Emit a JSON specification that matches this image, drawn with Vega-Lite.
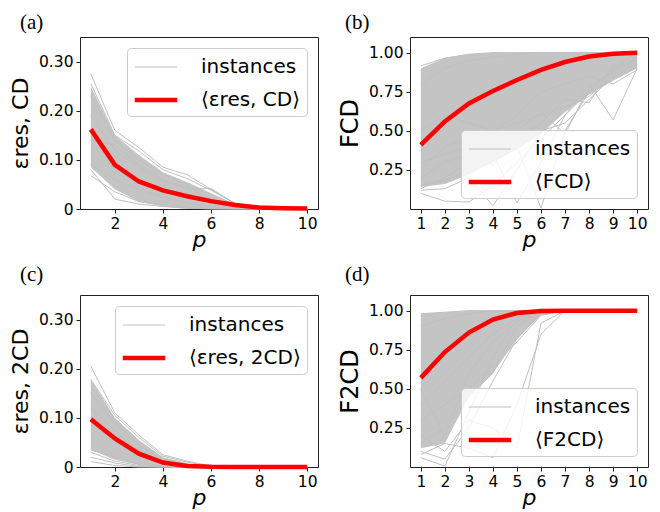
{
"$schema": "https://vega.github.io/schema/vega-lite/v6.json",
"background": "white",
"padding": {"left": 8, "top": 11, "right": 5, "bottom": 2},
"datasets": {
"aB": [{"p":1,"v":0.085,"hi":0.25},{"p":2,"v":0.04,"hi":0.15},{"p":3,"v":0.015,"hi":0.11},{"p":4,"v":0.005,"hi":0.075},{"p":5,"v":0,"hi":0.055},{"p":6,"v":0,"hi":0.032},{"p":7,"v":0,"hi":0.01},{"p":8,"v":0,"hi":0.004},{"p":9,"v":0,"hi":0.002},{"p":10,"v":0,"hi":0.001}],
"aM": [{"p":1,"v":0.162},{"p":2,"v":0.09},{"p":3,"v":0.056},{"p":4,"v":0.038},{"p":5,"v":0.026},{"p":6,"v":0.016},{"p":7,"v":0.008},{"p":8,"v":0.003},{"p":9,"v":0.0015},{"p":10,"v":0.0008}],
"aI": [
{"i":1,"p":1,"v":0.275},{"i":1,"p":2,"v":0.16},{"i":1,"p":3,"v":0.125},{"i":1,"p":4,"v":0.085},{"i":1,"p":5,"v":0.07},{"i":1,"p":6,"v":0.04},{"i":1,"p":7,"v":0.012},{"i":1,"p":8,"v":0.004},{"i":1,"p":9,"v":0.002},{"i":1,"p":10,"v":0.001},
{"i":2,"p":1,"v":0.255},{"i":2,"p":2,"v":0.15},{"i":2,"p":3,"v":0.118},{"i":2,"p":4,"v":0.08},{"i":2,"p":5,"v":0.062},{"i":2,"p":6,"v":0.038},{"i":2,"p":7,"v":0.011},{"i":2,"p":8,"v":0.003},{"i":2,"p":9,"v":0.001},{"i":2,"p":10,"v":0},
{"i":3,"p":1,"v":0.23},{"i":3,"p":2,"v":0.14},{"i":3,"p":3,"v":0.1},{"i":3,"p":4,"v":0.07},{"i":3,"p":5,"v":0.05},{"i":3,"p":6,"v":0.03},{"i":3,"p":7,"v":0.008},{"i":3,"p":8,"v":0.002},{"i":3,"p":9,"v":0.001},{"i":3,"p":10,"v":0},
{"i":4,"p":1,"v":0.19},{"i":4,"p":2,"v":0.12},{"i":4,"p":3,"v":0.085},{"i":4,"p":4,"v":0.055},{"i":4,"p":5,"v":0.045},{"i":4,"p":6,"v":0.02},{"i":4,"p":7,"v":0.006},{"i":4,"p":8,"v":0.002},{"i":4,"p":9,"v":0},{"i":4,"p":10,"v":0},
{"i":5,"p":1,"v":0.14},{"i":5,"p":2,"v":0.13},{"i":5,"p":3,"v":0.09},{"i":5,"p":4,"v":0.06},{"i":5,"p":5,"v":0.04},{"i":5,"p":6,"v":0.042},{"i":5,"p":7,"v":0.01},{"i":5,"p":8,"v":0.003},{"i":5,"p":9,"v":0.001},{"i":5,"p":10,"v":0},
{"i":6,"p":1,"v":0.09},{"i":6,"p":2,"v":0.06},{"i":6,"p":3,"v":0.04},{"i":6,"p":4,"v":0.025},{"i":6,"p":5,"v":0.012},{"i":6,"p":6,"v":0.005},{"i":6,"p":7,"v":0.002},{"i":6,"p":8,"v":0},{"i":6,"p":9,"v":0},{"i":6,"p":10,"v":0},
{"i":7,"p":1,"v":0.08},{"i":7,"p":2,"v":0.02},{"i":7,"p":3,"v":0.01},{"i":7,"p":4,"v":0.005},{"i":7,"p":5,"v":0.002},{"i":7,"p":6,"v":0},{"i":7,"p":7,"v":0},{"i":7,"p":8,"v":0},{"i":7,"p":9,"v":0},{"i":7,"p":10,"v":0},
{"i":8,"p":1,"v":0.068},{"i":8,"p":2,"v":0.035},{"i":8,"p":3,"v":0.015},{"i":8,"p":4,"v":0.008},{"i":8,"p":5,"v":0.004},{"i":8,"p":6,"v":0.001},{"i":8,"p":7,"v":0},{"i":8,"p":8,"v":0},{"i":8,"p":9,"v":0},{"i":8,"p":10,"v":0}],
"bB": [{"p":1,"v":0.14,"hi":0.9},{"p":2,"v":0.16,"hi":0.965},{"p":3,"v":0.22,"hi":0.99},{"p":4,"v":0.3,"hi":1},{"p":5,"v":0.38,"hi":1},{"p":6,"v":0.48,"hi":1},{"p":7,"v":0.62,"hi":1},{"p":8,"v":0.73,"hi":1},{"p":9,"v":0.82,"hi":1},{"p":10,"v":0.9,"hi":1}],
"bM": [{"p":1,"v":0.41},{"p":2,"v":0.56},{"p":3,"v":0.675},{"p":4,"v":0.755},{"p":5,"v":0.825},{"p":6,"v":0.89},{"p":7,"v":0.94},{"p":8,"v":0.975},{"p":9,"v":0.993},{"p":10,"v":1}],
"bI": [
{"i":1,"p":1,"v":0.915},{"i":1,"p":2,"v":0.965},{"i":1,"p":3,"v":0.99},{"i":1,"p":4,"v":1},{"i":1,"p":5,"v":1},{"i":1,"p":6,"v":1},{"i":1,"p":7,"v":1},{"i":1,"p":8,"v":1},{"i":1,"p":9,"v":1},{"i":1,"p":10,"v":1},
{"i":2,"p":1,"v":0.1},{"i":2,"p":2,"v":0.05},{"i":2,"p":3,"v":0.045},{"i":2,"p":4,"v":0.15},{"i":2,"p":5,"v":0.3},{"i":2,"p":6,"v":0.45},{"i":2,"p":7,"v":0.6},{"i":2,"p":8,"v":0.75},{"i":2,"p":9,"v":0.9},{"i":2,"p":10,"v":1},
{"i":3,"p":1,"v":0.12},{"i":3,"p":2,"v":0.13},{"i":3,"p":3,"v":0.2},{"i":3,"p":4,"v":0.02},{"i":3,"p":5,"v":0.25},{"i":3,"p":6,"v":0.5},{"i":3,"p":7,"v":0.55},{"i":3,"p":8,"v":0.7},{"i":3,"p":9,"v":0.85},{"i":3,"p":10,"v":0.98},
{"i":4,"p":1,"v":0.13},{"i":4,"p":2,"v":0.2},{"i":4,"p":3,"v":0.3},{"i":4,"p":4,"v":0.35},{"i":4,"p":5,"v":0.04},{"i":4,"p":6,"v":0.3},{"i":4,"p":7,"v":0.6},{"i":4,"p":8,"v":0.8},{"i":4,"p":9,"v":0.57},{"i":4,"p":10,"v":0.9},
{"i":5,"p":1,"v":0.15},{"i":5,"p":2,"v":0.18},{"i":5,"p":3,"v":0.25},{"i":5,"p":4,"v":0.3},{"i":5,"p":5,"v":0.4},{"i":5,"p":6,"v":0.005},{"i":5,"p":7,"v":0.5},{"i":5,"p":8,"v":0.75},{"i":5,"p":9,"v":0.9},{"i":5,"p":10,"v":0.95},
{"i":6,"p":1,"v":0.2},{"i":6,"p":2,"v":0.3},{"i":6,"p":3,"v":0.35},{"i":6,"p":4,"v":0.45},{"i":6,"p":5,"v":0.5},{"i":6,"p":6,"v":0.62},{"i":6,"p":7,"v":0.48},{"i":6,"p":8,"v":0.78},{"i":6,"p":9,"v":0.88},{"i":6,"p":10,"v":0.97},
{"i":7,"p":1,"v":0.3},{"i":7,"p":2,"v":0.35},{"i":7,"p":3,"v":0.4},{"i":7,"p":4,"v":0.28},{"i":7,"p":5,"v":0.45},{"i":7,"p":6,"v":0.55},{"i":7,"p":7,"v":0.7},{"i":7,"p":8,"v":0.68},{"i":7,"p":9,"v":0.92},{"i":7,"p":10,"v":0.93},
{"i":8,"p":1,"v":0.5},{"i":8,"p":2,"v":0.6},{"i":8,"p":3,"v":0.55},{"i":8,"p":4,"v":0.5},{"i":8,"p":5,"v":0.6},{"i":8,"p":6,"v":0.75},{"i":8,"p":7,"v":0.8},{"i":8,"p":8,"v":0.85},{"i":8,"p":9,"v":0.8},{"i":8,"p":10,"v":0.89},
{"i":9,"p":1,"v":0.8},{"i":9,"p":2,"v":0.9},{"i":9,"p":3,"v":0.95},{"i":9,"p":4,"v":0.97},{"i":9,"p":5,"v":0.99},{"i":9,"p":6,"v":1},{"i":9,"p":7,"v":1},{"i":9,"p":8,"v":1},{"i":9,"p":9,"v":1},{"i":9,"p":10,"v":1},
{"i":10,"p":1,"v":0.25},{"i":10,"p":2,"v":0.4},{"i":10,"p":3,"v":0.45},{"i":10,"p":4,"v":0.5},{"i":10,"p":5,"v":0.55},{"i":10,"p":6,"v":0.6},{"i":10,"p":7,"v":0.65},{"i":10,"p":8,"v":0.72},{"i":10,"p":9,"v":0.85},{"i":10,"p":10,"v":0.92}],
"cB": [{"p":1,"v":0.035,"hi":0.178},{"p":2,"v":0.015,"hi":0.1},{"p":3,"v":0.004,"hi":0.055},{"p":4,"v":0,"hi":0.02},{"p":5,"v":0,"hi":0.008},{"p":6,"v":0,"hi":0.001},{"p":7,"v":0,"hi":0},{"p":8,"v":0,"hi":0},{"p":9,"v":0,"hi":0},{"p":10,"v":0,"hi":0}],
"cM": [{"p":1,"v":0.097},{"p":2,"v":0.058},{"p":3,"v":0.027},{"p":4,"v":0.009},{"p":5,"v":0.002},{"p":6,"v":0.0003},{"p":7,"v":0},{"p":8,"v":0},{"p":9,"v":0},{"p":10,"v":0}],
"cI": [
{"i":1,"p":1,"v":0.205},{"i":1,"p":2,"v":0.11},{"i":1,"p":3,"v":0.065},{"i":1,"p":4,"v":0.025},{"i":1,"p":5,"v":0.012},{"i":1,"p":6,"v":0.002},{"i":1,"p":7,"v":0},{"i":1,"p":8,"v":0},{"i":1,"p":9,"v":0},{"i":1,"p":10,"v":0},
{"i":2,"p":1,"v":0.178},{"i":2,"p":2,"v":0.105},{"i":2,"p":3,"v":0.06},{"i":2,"p":4,"v":0.022},{"i":2,"p":5,"v":0.01},{"i":2,"p":6,"v":0.001},{"i":2,"p":7,"v":0},{"i":2,"p":8,"v":0},{"i":2,"p":9,"v":0},{"i":2,"p":10,"v":0},
{"i":3,"p":1,"v":0.15},{"i":3,"p":2,"v":0.09},{"i":3,"p":3,"v":0.045},{"i":3,"p":4,"v":0.015},{"i":3,"p":5,"v":0.005},{"i":3,"p":6,"v":0},{"i":3,"p":7,"v":0},{"i":3,"p":8,"v":0},{"i":3,"p":9,"v":0},{"i":3,"p":10,"v":0},
{"i":4,"p":1,"v":0.12},{"i":4,"p":2,"v":0.075},{"i":4,"p":3,"v":0.035},{"i":4,"p":4,"v":0.01},{"i":4,"p":5,"v":0.003},{"i":4,"p":6,"v":0},{"i":4,"p":7,"v":0},{"i":4,"p":8,"v":0},{"i":4,"p":9,"v":0},{"i":4,"p":10,"v":0},
{"i":5,"p":1,"v":0.035},{"i":5,"p":2,"v":0.02},{"i":5,"p":3,"v":0.006},{"i":5,"p":4,"v":0.001},{"i":5,"p":5,"v":0},{"i":5,"p":6,"v":0},{"i":5,"p":7,"v":0},{"i":5,"p":8,"v":0},{"i":5,"p":9,"v":0},{"i":5,"p":10,"v":0},
{"i":6,"p":1,"v":0.03},{"i":6,"p":2,"v":0.012},{"i":6,"p":3,"v":0.003},{"i":6,"p":4,"v":0},{"i":6,"p":5,"v":0},{"i":6,"p":6,"v":0},{"i":6,"p":7,"v":0},{"i":6,"p":8,"v":0},{"i":6,"p":9,"v":0},{"i":6,"p":10,"v":0},
{"i":7,"p":1,"v":0.02},{"i":7,"p":2,"v":0.008},{"i":7,"p":3,"v":0.001},{"i":7,"p":4,"v":0},{"i":7,"p":5,"v":0},{"i":7,"p":6,"v":0},{"i":7,"p":7,"v":0},{"i":7,"p":8,"v":0},{"i":7,"p":9,"v":0},{"i":7,"p":10,"v":0},
{"i":8,"p":1,"v":0.011},{"i":8,"p":2,"v":0.003},{"i":8,"p":3,"v":0},{"i":8,"p":4,"v":0},{"i":8,"p":5,"v":0},{"i":8,"p":6,"v":0},{"i":8,"p":7,"v":0},{"i":8,"p":8,"v":0},{"i":8,"p":9,"v":0},{"i":8,"p":10,"v":0}],
"dB": [{"p":1,"v":0.12,"hi":0.98},{"p":2,"v":0.15,"hi":0.99},{"p":3,"v":0.45,"hi":1},{"p":4,"v":0.6,"hi":1},{"p":5,"v":0.82,"hi":1},{"p":6,"v":0.97,"hi":1},{"p":7,"v":1,"hi":1},{"p":8,"v":1,"hi":1},{"p":9,"v":1,"hi":1},{"p":10,"v":1,"hi":1}],
"dM": [{"p":1,"v":0.57},{"p":2,"v":0.735},{"p":3,"v":0.86},{"p":4,"v":0.943},{"p":5,"v":0.985},{"p":6,"v":0.997},{"p":7,"v":1},{"p":8,"v":1},{"p":9,"v":1},{"p":10,"v":1}],
"dI": [
{"i":1,"p":1,"v":0.98},{"i":1,"p":2,"v":0.99},{"i":1,"p":3,"v":1},{"i":1,"p":4,"v":1},{"i":1,"p":5,"v":1},{"i":1,"p":6,"v":1},{"i":1,"p":7,"v":1},{"i":1,"p":8,"v":1},{"i":1,"p":9,"v":1},{"i":1,"p":10,"v":1},
{"i":2,"p":1,"v":0.06},{"i":2,"p":2,"v":0.005},{"i":2,"p":3,"v":0.35},{"i":2,"p":4,"v":0.7},{"i":2,"p":5,"v":0.95},{"i":2,"p":6,"v":1},{"i":2,"p":7,"v":1},{"i":2,"p":8,"v":1},{"i":2,"p":9,"v":1},{"i":2,"p":10,"v":1},
{"i":3,"p":1,"v":0.1},{"i":3,"p":2,"v":0.05},{"i":3,"p":3,"v":0.25},{"i":3,"p":4,"v":0.55},{"i":3,"p":5,"v":0.82},{"i":3,"p":6,"v":0.99},{"i":3,"p":7,"v":1},{"i":3,"p":8,"v":1},{"i":3,"p":9,"v":1},{"i":3,"p":10,"v":1},
{"i":4,"p":1,"v":0.08},{"i":4,"p":2,"v":0.15},{"i":4,"p":3,"v":0.12},{"i":4,"p":4,"v":0.06},{"i":4,"p":5,"v":0.4},{"i":4,"p":6,"v":0.85},{"i":4,"p":7,"v":1},{"i":4,"p":8,"v":1},{"i":4,"p":9,"v":1},{"i":4,"p":10,"v":1},
{"i":5,"p":1,"v":0.2},{"i":5,"p":2,"v":0.1},{"i":5,"p":3,"v":0.3},{"i":5,"p":4,"v":0.25},{"i":5,"p":5,"v":0.12},{"i":5,"p":6,"v":0.92},{"i":5,"p":7,"v":1},{"i":5,"p":8,"v":1},{"i":5,"p":9,"v":1},{"i":5,"p":10,"v":1},
{"i":6,"p":1,"v":0.3},{"i":6,"p":2,"v":0.4},{"i":6,"p":3,"v":0.5},{"i":6,"p":4,"v":0.65},{"i":6,"p":5,"v":0.8},{"i":6,"p":6,"v":0.97},{"i":6,"p":7,"v":1},{"i":6,"p":8,"v":1},{"i":6,"p":9,"v":1},{"i":6,"p":10,"v":1},
{"i":7,"p":1,"v":0.15},{"i":7,"p":2,"v":0.25},{"i":7,"p":3,"v":0.45},{"i":7,"p":4,"v":0.6},{"i":7,"p":5,"v":0.9},{"i":7,"p":6,"v":1},{"i":7,"p":7,"v":1},{"i":7,"p":8,"v":1},{"i":7,"p":9,"v":1},{"i":7,"p":10,"v":1},
{"i":8,"p":1,"v":0.4},{"i":8,"p":2,"v":0.55},{"i":8,"p":3,"v":0.7},{"i":8,"p":4,"v":0.85},{"i":8,"p":5,"v":0.95},{"i":8,"p":6,"v":1},{"i":8,"p":7,"v":1},{"i":8,"p":8,"v":1},{"i":8,"p":9,"v":1},{"i":8,"p":10,"v":1},
{"i":9,"p":1,"v":0.9},{"i":9,"p":2,"v":0.95},{"i":9,"p":3,"v":0.98},{"i":9,"p":4,"v":1},{"i":9,"p":5,"v":1},{"i":9,"p":6,"v":1},{"i":9,"p":7,"v":1},{"i":9,"p":8,"v":1},{"i":9,"p":9,"v":1},{"i":9,"p":10,"v":1},
{"i":10,"p":1,"v":0.5},{"i":10,"p":2,"v":0.2},{"i":10,"p":3,"v":0.6},{"i":10,"p":4,"v":0.8},{"i":10,"p":5,"v":0.93},{"i":10,"p":6,"v":1},{"i":10,"p":7,"v":1},{"i":10,"p":8,"v":1},{"i":10,"p":9,"v":1},{"i":10,"p":10,"v":1}]
},
"columns": 2,
"spacing": {"row": 12, "column": 18},
"resolve": {"scale": {"color": "independent", "strokeWidth": "independent", "x": "independent", "y": "independent"}, "legend": {"color": "independent", "strokeWidth": "independent"}},
"concat": [
{
"width": 238, "height": 172,
"title": {"text": "(a)", "dx": -60},
"encoding": {
 "x": {"field": "p", "type": "quantitative", "scale": {"domain": [0.55, 10.45], "nice": false, "zero": false}, "axis": {"values": [2, 4, 6, 8, 10], "title": "p", "format": "d"}},
 "y": {"field": "v", "type": "quantitative", "scale": {"domain": [0, 0.35], "nice": false}, "axis": {"values": [0, 0.1, 0.2, 0.3], "labelExpr": "datum.value == 0 ? '0' : format(datum.value, '.2f')", "title": "εres, CD"}}
},
"layer": [
 {"data": {"name": "aB"}, "mark": {"type": "area", "color": "#c4c4c4"}, "encoding": {"y2": {"field": "hi"}}},
 {"data": {"name": "aI"}, "mark": {"type": "line"}, "encoding": {"detail": {"field": "i", "type": "nominal"},
   "color": {"datum": "instances", "type": "nominal", "scale": {"domain": ["instances", "⟨εres, CD⟩"], "range": ["#c0c0c0", "#ff0000"]}, "legend": {"title": null, "orient": "top-right"}},
   "strokeWidth": {"datum": "instances", "type": "nominal", "scale": {"type": "ordinal", "domain": ["instances", "⟨εres, CD⟩"], "range": [1, 4.5]}, "legend": {"title": null, "orient": "top-right"}}}},
 {"data": {"name": "aM"}, "mark": {"type": "line"}, "encoding": {
   "color": {"datum": "⟨εres, CD⟩", "type": "nominal", "scale": {"domain": ["instances", "⟨εres, CD⟩"], "range": ["#c0c0c0", "#ff0000"]}, "legend": {"title": null, "orient": "top-right"}},
   "strokeWidth": {"datum": "⟨εres, CD⟩", "type": "nominal", "scale": {"type": "ordinal", "domain": ["instances", "⟨εres, CD⟩"], "range": [1, 4.5]}, "legend": {"title": null, "orient": "top-right"}}}}
]
},
{
"width": 238, "height": 172,
"title": {"text": "(b)", "dx": -65},
"encoding": {
 "x": {"field": "p", "type": "quantitative", "scale": {"domain": [0.55, 10.45], "nice": false, "zero": false}, "axis": {"values": [1, 2, 3, 4, 5, 6, 7, 8, 9, 10], "title": "p", "format": "d"}},
 "y": {"field": "v", "type": "quantitative", "scale": {"domain": [0, 1.1], "nice": false}, "axis": {"values": [0.25, 0.5, 0.75, 1], "format": ".2f", "title": "FCD", "titleFontSize": 24}}
},
"layer": [
 {"data": {"name": "bB"}, "mark": {"type": "area", "color": "#c4c4c4"}, "encoding": {"y2": {"field": "hi"}}},
 {"data": {"name": "bI"}, "mark": {"type": "line"}, "encoding": {"detail": {"field": "i", "type": "nominal"},
   "color": {"datum": "instances", "type": "nominal", "scale": {"domain": ["instances", "⟨FCD⟩"], "range": ["#c0c0c0", "#ff0000"]}, "legend": {"title": null, "orient": "bottom-right"}},
   "strokeWidth": {"datum": "instances", "type": "nominal", "scale": {"type": "ordinal", "domain": ["instances", "⟨FCD⟩"], "range": [1, 4.5]}, "legend": {"title": null, "orient": "bottom-right"}}}},
 {"data": {"name": "bM"}, "mark": {"type": "line"}, "encoding": {
   "color": {"datum": "⟨FCD⟩", "type": "nominal", "scale": {"domain": ["instances", "⟨FCD⟩"], "range": ["#c0c0c0", "#ff0000"]}, "legend": {"title": null, "orient": "bottom-right"}},
   "strokeWidth": {"datum": "⟨FCD⟩", "type": "nominal", "scale": {"type": "ordinal", "domain": ["instances", "⟨FCD⟩"], "range": [1, 4.5]}, "legend": {"title": null, "orient": "bottom-right"}}}}
]
},
{
"width": 238, "height": 172,
"title": {"text": "(c)", "dx": -60, "offset": 10},
"encoding": {
 "x": {"field": "p", "type": "quantitative", "scale": {"domain": [0.55, 10.45], "nice": false, "zero": false}, "axis": {"values": [2, 4, 6, 8, 10], "title": "p", "format": "d"}},
 "y": {"field": "v", "type": "quantitative", "scale": {"domain": [0, 0.35], "nice": false}, "axis": {"values": [0, 0.1, 0.2, 0.3], "labelExpr": "datum.value == 0 ? '0' : format(datum.value, '.2f')", "title": "εres, 2CD"}}
},
"layer": [
 {"data": {"name": "cB"}, "mark": {"type": "area", "color": "#c4c4c4"}, "encoding": {"y2": {"field": "hi"}}},
 {"data": {"name": "cI"}, "mark": {"type": "line"}, "encoding": {"detail": {"field": "i", "type": "nominal"},
   "color": {"datum": "instances", "type": "nominal", "scale": {"domain": ["instances", "⟨εres, 2CD⟩"], "range": ["#c0c0c0", "#ff0000"]}, "legend": {"title": null, "orient": "top-right"}},
   "strokeWidth": {"datum": "instances", "type": "nominal", "scale": {"type": "ordinal", "domain": ["instances", "⟨εres, 2CD⟩"], "range": [1, 4.5]}, "legend": {"title": null, "orient": "top-right"}}}},
 {"data": {"name": "cM"}, "mark": {"type": "line"}, "encoding": {
   "color": {"datum": "⟨εres, 2CD⟩", "type": "nominal", "scale": {"domain": ["instances", "⟨εres, 2CD⟩"], "range": ["#c0c0c0", "#ff0000"]}, "legend": {"title": null, "orient": "top-right"}},
   "strokeWidth": {"datum": "⟨εres, 2CD⟩", "type": "nominal", "scale": {"type": "ordinal", "domain": ["instances", "⟨εres, 2CD⟩"], "range": [1, 4.5]}, "legend": {"title": null, "orient": "top-right"}}}}
]
},
{
"width": 238, "height": 172,
"title": {"text": "(d)", "dx": -65, "offset": 10},
"encoding": {
 "x": {"field": "p", "type": "quantitative", "scale": {"domain": [0.55, 10.45], "nice": false, "zero": false}, "axis": {"values": [1, 2, 3, 4, 5, 6, 7, 8, 9, 10], "title": "p", "format": "d"}},
 "y": {"field": "v", "type": "quantitative", "scale": {"domain": [0, 1.1], "nice": false}, "axis": {"values": [0.25, 0.5, 0.75, 1], "format": ".2f", "title": "F2CD", "titleFontSize": 24}}
},
"layer": [
 {"data": {"name": "dB"}, "mark": {"type": "area", "color": "#c4c4c4"}, "encoding": {"y2": {"field": "hi"}}},
 {"data": {"name": "dI"}, "mark": {"type": "line"}, "encoding": {"detail": {"field": "i", "type": "nominal"},
   "color": {"datum": "instances", "type": "nominal", "scale": {"domain": ["instances", "⟨F2CD⟩"], "range": ["#c0c0c0", "#ff0000"]}, "legend": {"title": null, "orient": "bottom-right"}},
   "strokeWidth": {"datum": "instances", "type": "nominal", "scale": {"type": "ordinal", "domain": ["instances", "⟨F2CD⟩"], "range": [1, 4.5]}, "legend": {"title": null, "orient": "bottom-right"}}}},
 {"data": {"name": "dM"}, "mark": {"type": "line"}, "encoding": {
   "color": {"datum": "⟨F2CD⟩", "type": "nominal", "scale": {"domain": ["instances", "⟨F2CD⟩"], "range": ["#c0c0c0", "#ff0000"]}, "legend": {"title": null, "orient": "bottom-right"}},
   "strokeWidth": {"datum": "⟨F2CD⟩", "type": "nominal", "scale": {"type": "ordinal", "domain": ["instances", "⟨F2CD⟩"], "range": [1, 4.5]}, "legend": {"title": null, "orient": "bottom-right"}}}}
]
}
],
"config": {
 "view": {"stroke": "#222", "strokeWidth": 1},
 "axis": {"grid": false, "domain": false, "labelFont": "DejaVu Sans", "labelFontSize": 15.5, "labelColor": "#000", "tickColor": "#222", "tickSize": 4, "tickWidth": 1, "labelPadding": 3, "labelFlush": false, "titleFont": "DejaVu Sans", "titleFontWeight": "normal", "titleColor": "#000"},
 "axisX": {"titleFontSize": 22, "titleFontStyle": "italic", "titlePadding": -2},
 "axisY": {"titleFontSize": 22, "titlePadding": 6},
 "title": {"anchor": "start", "frame": "group", "font": "Liberation Serif", "fontSize": 21, "fontWeight": "normal", "color": "#000", "offset": 4},
 "legend": {"symbolType": "M-1.7,0H1.7", "symbolSize": 625, "labelFont": "DejaVu Sans", "labelFontSize": 20, "labelColor": "#000", "padding": 6, "rowPadding": 8, "symbolOffset": 8, "labelOffset": 30, "strokeColor": "#cccccc", "cornerRadius": 4, "fillColor": "rgba(255,255,255,0.8)", "offset": 11, "symbolOpacity": 1}
}
}
